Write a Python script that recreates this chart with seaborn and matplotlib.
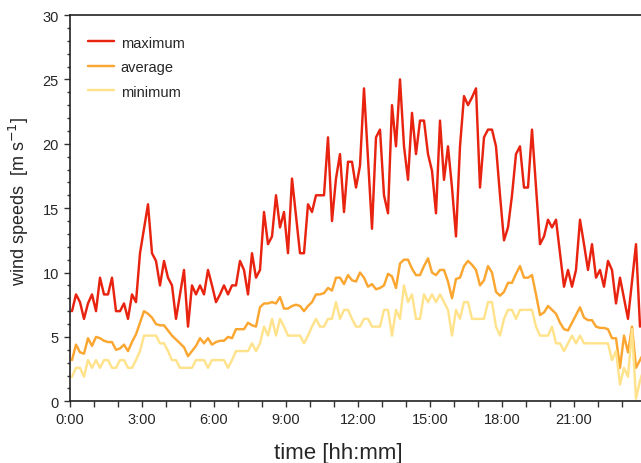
import numpy as np
import pandas as pd
import matplotlib
matplotlib.use('Agg')
import matplotlib.pyplot as plt
from matplotlib.ticker import MultipleLocator
import seaborn as sns

# =============================================================================
# DATOS (10-min)
# =============================================================================
maximum = [
    7.0, 8.3, 7.7, 6.4, 7.6, 8.3, 7.0, 9.6, 8.3, 8.3,
    9.6, 7.0, 7.0, 7.6, 6.4, 8.3, 7.7, 11.5, 13.4, 15.3,
    11.5, 10.9, 9.0, 10.9, 9.6, 9.0, 6.4, 8.3, 10.2, 5.8,
    9.0, 8.3, 9.0, 8.3, 10.2, 9.0, 7.7, 8.3, 9.0, 8.3,
    9.0, 9.0, 10.9, 10.2, 8.3, 11.5, 9.6, 10.2, 14.7, 12.2,
    12.8, 16.0, 13.5, 14.7, 11.5, 17.3, 14.4, 11.5, 11.5, 15.3,
    14.7, 16.0, 16.0, 16.0, 20.5, 14.0, 17.3, 19.2, 14.7, 18.6,
    18.6, 16.6, 18.3, 24.3, 18.9, 13.4, 20.5, 21.1, 16.0, 14.6,
    23.0, 19.8, 25.0, 19.8, 17.2, 22.4, 19.2, 21.8, 21.8, 19.2,
    17.9, 14.6, 21.8, 17.2, 19.8, 16.6, 12.8, 19.8, 23.7, 23.0,
    23.6, 24.3, 16.6, 20.5, 21.1, 21.1, 19.8, 16.0, 12.5, 13.5,
    16.0, 19.2, 19.8, 16.6, 16.6, 21.1, 16.6, 12.2, 12.8, 14.1,
    13.5, 14.1, 11.5, 8.9, 10.2, 8.9, 10.2, 14.1, 12.2, 10.2,
    12.2, 9.6, 10.2, 8.9, 10.9, 10.2, 7.6, 9.6, 8.0, 6.4,
    9.3, 12.2, 5.8, 6.4]

average = [
    3.2, 4.4, 3.8, 3.7, 4.9, 4.3, 5.0, 4.9, 4.7, 4.6,
    4.6, 4.0, 4.1, 4.4, 3.9, 4.6, 5.2, 6.1, 7.0, 6.8,
    6.5, 6.0, 5.9, 5.9, 5.5, 5.1, 4.8, 4.5, 4.2, 3.5,
    3.9, 4.3, 4.9, 4.5, 4.9, 4.4, 4.6, 4.7, 4.7, 5.0,
    4.9, 5.6, 5.6, 5.6, 6.1, 5.9, 5.8, 7.3, 7.6, 7.6,
    7.7, 7.6, 8.1, 7.2, 7.2, 7.4, 7.5, 7.4, 7.0, 7.4,
    7.7, 8.3, 8.3, 8.4, 8.8, 8.6, 9.6, 9.6, 9.1, 9.8,
    9.4, 9.3, 10.0, 9.6, 8.9, 9.1, 8.7, 8.8, 9.0, 9.9,
    9.7, 8.8, 10.7, 11.0, 11.0, 10.3, 9.8, 9.8, 10.5, 11.1,
    10.0, 9.8, 10.2, 10.2, 9.3, 8.0, 9.5, 9.6, 10.5, 10.9,
    10.6, 10.2, 9.0, 9.4, 10.5, 10.0, 8.5, 8.2, 8.5, 9.2,
    9.2, 9.9, 10.5, 9.6, 9.6, 9.8, 8.3, 6.7, 6.9, 7.4,
    7.1, 6.8, 6.1, 5.6, 5.5, 6.1, 6.7, 7.3, 6.5, 6.3,
    6.3, 5.8, 5.7, 5.7, 5.6, 4.9, 4.9, 2.6, 5.1, 3.8,
    5.8, 2.6, 3.2, 3.8]

minimum = [
    1.9, 2.6, 2.6, 1.9, 3.2, 2.6, 3.2, 2.6, 3.2, 3.2,
    2.6, 2.6, 3.2, 3.2, 2.6, 2.6, 3.2, 3.9, 5.1, 5.1,
    5.1, 5.1, 4.5, 4.5, 3.9, 3.2, 3.2, 2.6, 2.6, 2.6,
    2.6, 3.2, 3.2, 3.2, 2.6, 3.2, 3.2, 3.2, 3.2, 2.6,
    3.2, 3.9, 3.9, 3.9, 3.9, 4.5, 3.9, 4.5, 5.8, 5.1,
    6.4, 5.1, 6.4, 5.8, 5.1, 5.1, 5.1, 5.1, 4.5, 5.1,
    5.8, 6.4, 5.8, 5.8, 6.4, 6.4, 7.7, 6.4, 7.1, 7.1,
    6.4, 5.8, 5.8, 6.4, 6.4, 5.8, 5.8, 5.8, 7.1, 7.1,
    5.1, 7.1, 6.4, 9.0, 7.7, 8.3, 6.4, 6.4, 8.3, 7.7,
    8.3, 7.7, 8.3, 7.7, 7.1, 5.1, 7.1, 6.4, 7.7, 7.7,
    6.4, 6.4, 6.4, 6.4, 7.7, 7.7, 5.8, 5.1, 6.4, 7.1,
    7.1, 6.4, 7.1, 7.1, 7.1, 7.1, 5.8, 5.1, 5.1, 5.1,
    5.8, 4.5, 4.5, 3.9, 4.5, 5.1, 4.5, 5.1, 4.5, 4.5,
    4.5, 4.5, 4.5, 4.5, 4.5, 3.2, 3.9, 1.3, 2.6, 1.9,
    5.6, 0.2, 1.6, 2.6]

# marcas de tiempo centradas en cada intervalo de 10 min (horas)
tiempo_h = [(5 + 10 * i) / 60 for i in range(len(maximum))]

series = ['maximum', 'average', 'minimum']
colores = {'maximum': '#e8230f', 'average': '#fba630', 'minimum': '#ffe38c'}
ticks_x = [0, 3, 6, 9, 12, 15, 18, 21]
etiquetas_x = ['0:00', '3:00', '6:00', '9:00', '12:00', '15:00', '18:00', '21:00']
ticks_y = [0, 5, 10, 15, 20, 25, 30]

df = pd.DataFrame({
    'time': tiempo_h * 3,
    'speed': maximum + average + minimum,
    'series': ['maximum'] * len(maximum) + ['average'] * len(average) + ['minimum'] * len(minimum),
})

# =============================================================================
# GRAFICAR
# =============================================================================
sns.set_style('ticks')
plt.rcParams['font.family'] = ['Liberation Sans', 'DejaVu Sans']

fig = plt.figure(figsize=(6.41, 4.64), dpi=100)
# el eje llega hasta 24:00, un poco fuera del borde derecho (recorte del original)
ax = fig.add_axes([0.1092, 0.133, 0.8986, 0.8325])

sns.lineplot(data=df, x='time', y='speed', hue='series', hue_order=series,
             palette=colores, linewidth=1.75, ax=ax)

ax.set_xlim(0, 24)
ax.set_ylim(0, 30)
ax.set_xticks(ticks_x)
ax.set_xticklabels(etiquetas_x)
ax.set_yticks(ticks_y)
ax.xaxis.set_minor_locator(MultipleLocator(1))
ax.yaxis.set_minor_locator(MultipleLocator(1))
ax.tick_params(axis='both', which='major', labelsize=10.5, length=4, width=1,
               color='#333333', direction='out', pad=4)
ax.tick_params(axis='x', which='minor', length=4, width=1, color='#333333')
ax.tick_params(axis='y', which='minor', length=2.5, width=1, color='#333333')
for s in ['left', 'bottom', 'top', 'right']:
    ax.spines[s].set_color('#222222')
    ax.spines[s].set_linewidth(1.2)

ax.set_xlabel('time [hh:mm]', fontsize=16)
ax.xaxis.set_label_coords(0.465, -0.105)
ax.set_ylabel('wind speeds  [m s$^{-1}$]', fontsize=13)
ax.yaxis.set_label_coords(-0.068, 0.52)

handles, labels = ax.get_legend_handles_labels()
ax.legend(handles, labels, loc='upper left', bbox_to_anchor=(0.021, 0.962),
          frameon=False, fontsize=10.5, handlelength=1.8, handletextpad=0.45,
          labelspacing=0.72, borderaxespad=0)

fig.savefig('out.png', dpi=100)
